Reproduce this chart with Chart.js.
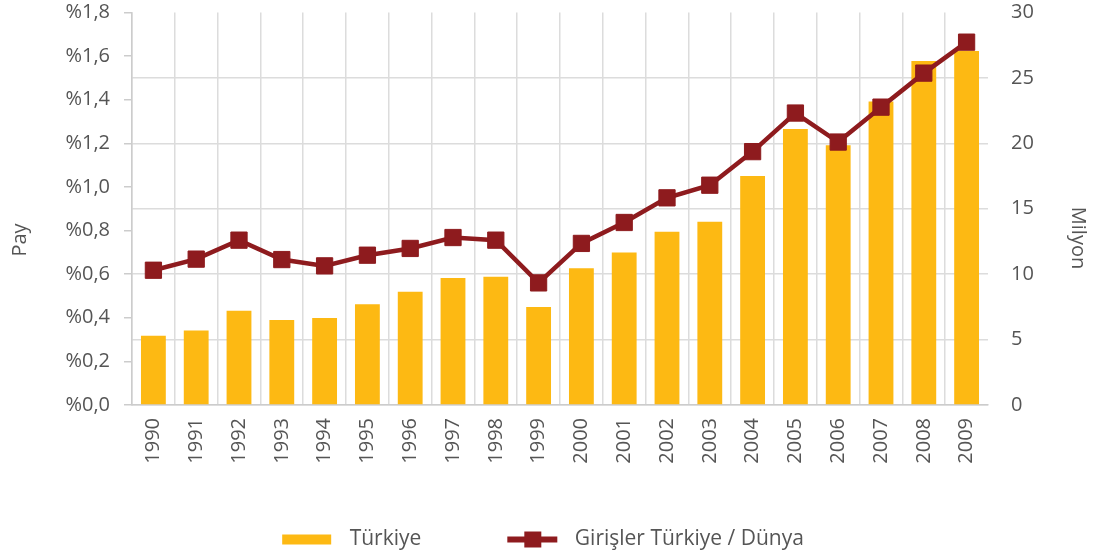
<!DOCTYPE html>
<html lang="tr">
<head>
<meta charset="utf-8">
<title>Türkiye turist girişleri</title>
<script src="https://cdn.jsdelivr.net/npm/chart.js@4.4.1/dist/chart.umd.min.js"></script>
<style>
  html, body { margin: 0; padding: 0; background: #fff; }
  #kutu { width: 1100px; height: 560px; }
</style>
</head>
<body>
<div id="kutu"><canvas id="grafik"></canvas></div>
<script>
const yillar = ['1990', '1991', '1992', '1993', '1994', '1995', '1996', '1997', '1998', '1999',
                '2000', '2001', '2002', '2003', '2004', '2005', '2006', '2007', '2008', '2009'];
// Türkiye'ye gelen turist (milyon) - sağ eksen
const girislerMilyon = [5.3, 5.7, 7.2, 6.5, 6.65, 7.7, 8.65, 9.7, 9.8, 7.5,
                        10.45, 11.65, 13.25, 14.0, 17.5, 21.1, 19.85, 23.2, 26.3, 27.05];
// Girişler Türkiye / Dünya (yüzde) - sol eksen
const dunyaPayi = [0.618, 0.669, 0.756, 0.667, 0.638, 0.687, 0.718, 0.768, 0.756, 0.560,
                   0.741, 0.837, 0.950, 1.008, 1.162, 1.339, 1.206, 1.366, 1.522, 1.664];
const payTikleri = ['%0,0', '%0,2', '%0,4', '%0,6', '%0,8', '%1,0', '%1,2', '%1,4', '%1,6', '%1,8'];
const milyonTikleri = ['0', '5', '10', '15', '20', '25', '30'];

const SARI = '#fdb913';
const BORDO = '#8e1b1e';
const GRI_CIZGI = '#dcdcdc';
const YAZI = '#555';

Chart.defaults.font.family = "'Open Sans', sans-serif";
Chart.defaults.font.size = 20;
Chart.defaults.color = YAZI;

// lejant simgeleri (soldaki boşluk öğeler arası mesafe için)
function cubukSimgesi() {
    const c = document.createElement('canvas');
    c.width = 78; c.height = 12;
    const g = c.getContext('2d');
    g.fillStyle = SARI;
    g.fillRect(21, 1, 49, 10);
    return c;
}

function cizgiSimgesi() {
    const c = document.createElement('canvas');
    c.width = 78; c.height = 18;
    const g = c.getContext('2d');
    g.fillStyle = BORDO;
    g.fillRect(21, 6, 50, 6);
    g.fillRect(38, 1, 17, 16);
    return c;
}

const eksenBasliklari = {
    id: 'eksenBasliklari',
    afterDraw(chart) {
        const ctx = chart.ctx;
        ctx.save();
        ctx.fillStyle = YAZI;
        ctx.font = "20px 'Open Sans', sans-serif";
        ctx.textAlign = 'center';
        ctx.textBaseline = 'middle';

        ctx.save();
        ctx.translate(20, 240);
        ctx.rotate(-Math.PI / 2);
        ctx.fillText('Pay', 0, 0);
        ctx.restore();

        ctx.save();
        ctx.translate(1078, 238);
        ctx.rotate(Math.PI / 2);
        ctx.fillText('Milyon', 0, 0);
        ctx.restore();

        ctx.restore();
    }
};

new Chart(document.getElementById('grafik'), {
    data: {
        labels: yillar,
        datasets: [
            {
                type: 'line',
                label: 'Girişler Türkiye / Dünya',
                data: dunyaPayi,
                yAxisID: 'y',
                order: 0,
                borderColor: BORDO,
                backgroundColor: BORDO,
                borderWidth: 4.5,
                pointStyle: 'rect',
                pointRadius: 11.5,
                pointBorderWidth: 1,
                pointBackgroundColor: BORDO,
                pointBorderColor: BORDO,
                tension: 0
            },
            {
                type: 'bar',
                label: 'Türkiye',
                data: girislerMilyon,
                yAxisID: 'y1',
                order: 1,
                backgroundColor: SARI,
                barPercentage: 0.58,
                categoryPercentage: 1
            }
        ]
    },
    options: {
        responsive: true,
        maintainAspectRatio: false,
        animation: false,
        layout: { padding: { left: 0, right: 35, top: 12, bottom: 0 } },
        plugins: {
            tooltip: { enabled: false },
            legend: {
                position: 'bottom',
                reverse: true,
                labels: {
                    usePointStyle: true,
                    pointStyleWidth: 78,
                    padding: 65,
                    color: YAZI,
                    font: { size: 21 },
                    generateLabels(chart) {
                        const items = Chart.defaults.plugins.legend.labels.generateLabels(chart);
                        items.forEach(it => {
                            it.pointStyle = it.text === 'Türkiye' ? cubukSimgesi() : cizgiSimgesi();
                        });
                        return items;
                    }
                }
            }
        },
        scales: {
            x: {
                afterFit(scale) { scale.height = 59; },
                grid: {
                    offset: true,
                    drawTicks: false,
                    lineWidth: 1.5,
                    color: ctx => ctx.type === 'tick' ? GRI_CIZGI : 'rgba(0,0,0,0)'
                },
                border: { color: '#cccccc', width: 1.5 },
                ticks: {
                    autoSkip: false,
                    minRotation: 90,
                    maxRotation: 90,
                    padding: 13,
                    font: { size: 20 }
                }
            },
            y: {
                position: 'left',
                min: 0,
                max: 1.8,
                afterFit(scale) {
                    scale.width = 132;
                    scale.paddingTop = 0;
                    scale.paddingBottom = 0;
                },
                grid: {
                    drawOnChartArea: false,
                    drawTicks: true,
                    tickLength: 8,
                    color: '#cccccc',
                    lineWidth: 1.5
                },
                border: { color: '#cccccc', width: 1.5 },
                ticks: {
                    stepSize: 0.2,
                    padding: 14,
                    font: { size: 20 },
                    callback: (v, i) => payTikleri[i]
                }
            },
            y1: {
                position: 'right',
                min: 0,
                max: 30,
                afterFit(scale) {
                    scale.width = 77;
                    scale.paddingTop = 0;
                    scale.paddingBottom = 0;
                },
                grid: {
                    drawTicks: false,
                    lineWidth: 1.5,
                    color: ctx => ctx.tick && ctx.tick.value === 30 ? 'rgba(0,0,0,0)' : GRI_CIZGI
                },
                border: { display: false },
                ticks: {
                    stepSize: 5,
                    padding: 23,
                    font: { size: 20 },
                    callback: (v, i) => milyonTikleri[i]
                }
            }
        }
    },
    plugins: [eksenBasliklari]
});
</script>
</body>
</html>
